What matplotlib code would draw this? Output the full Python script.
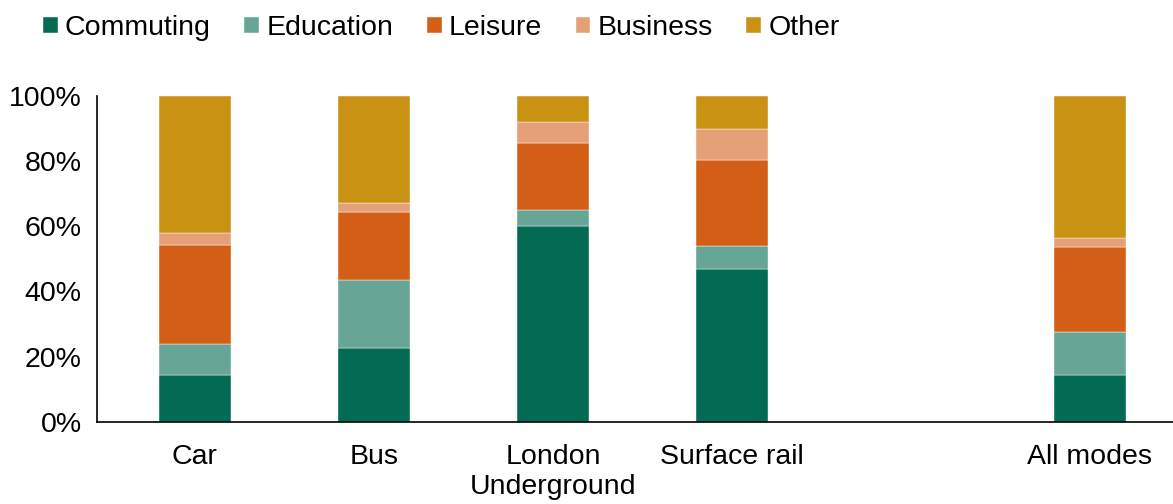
import matplotlib.pyplot as plt
from matplotlib.ticker import PercentFormatter

plt.rcParams['font.family'] = ['Liberation Sans', 'DejaVu Sans']

modes = ["Car", "Bus", "London\nUnderground", "Surface rail", "All modes"]
purposes = ["Commuting", "Education", "Leisure", "Business", "Other"]
commuting = [14.4, 22.6, 60.2, 46.8, 14.4]
education = [9.6, 20.8, 4.7, 7.0, 13.1]
leisure = [30.2, 21.1, 20.5, 26.5, 26.2]
business = [3.7, 2.7, 6.4, 9.6, 2.7]
other = [42.1, 32.8, 8.2, 10.1, 43.6]
colors = ["#036A53", "#67A597", "#D35F17", "#E5A077", "#C99213"]

# gap left empty before the "All modes" bar
xpos = [0, 1, 2, 3, 5]

fig = plt.figure(figsize=(11.73, 5.04), dpi=100)
ax = fig.add_axes([0.0827, 0.163, 0.9173, 0.647])

bottom = [0] * len(modes)
for name, vals, c in zip(purposes, [commuting, education, leisure, business, other], colors):
    ax.bar(xpos, vals, bottom=bottom, width=0.4, color=c, label=name,
           edgecolor="white", linewidth=0.3)
    bottom = [b + v for b, v in zip(bottom, vals)]

ax.set_ylim(0, 100)
ax.set_xlim(-0.547, 5.464)
ax.set_yticks(range(0, 101, 20))
ax.yaxis.set_major_formatter(PercentFormatter(decimals=0))
ax.set_xticks(xpos)
ax.set_xticklabels(modes, linespacing=1.22)
ax.tick_params(axis="both", length=0, labelsize=20.5, colors="black")
ax.tick_params(axis="x", pad=16)
ax.tick_params(axis="y", pad=11)

for s in ["top", "right"]:
    ax.spines[s].set_visible(False)
ax.spines["left"].set_linewidth(1.2)
ax.spines["bottom"].set_linewidth(1.2)

fig.legend(loc="upper left", bbox_to_anchor=(0.0367, 0.97), ncol=5, frameon=False,
           fontsize=20.5, handlelength=0.52, handleheight=0.52, handletextpad=0.25,
           columnspacing=1.18, borderpad=0, borderaxespad=0)

fig.savefig("out.png", dpi=100)
